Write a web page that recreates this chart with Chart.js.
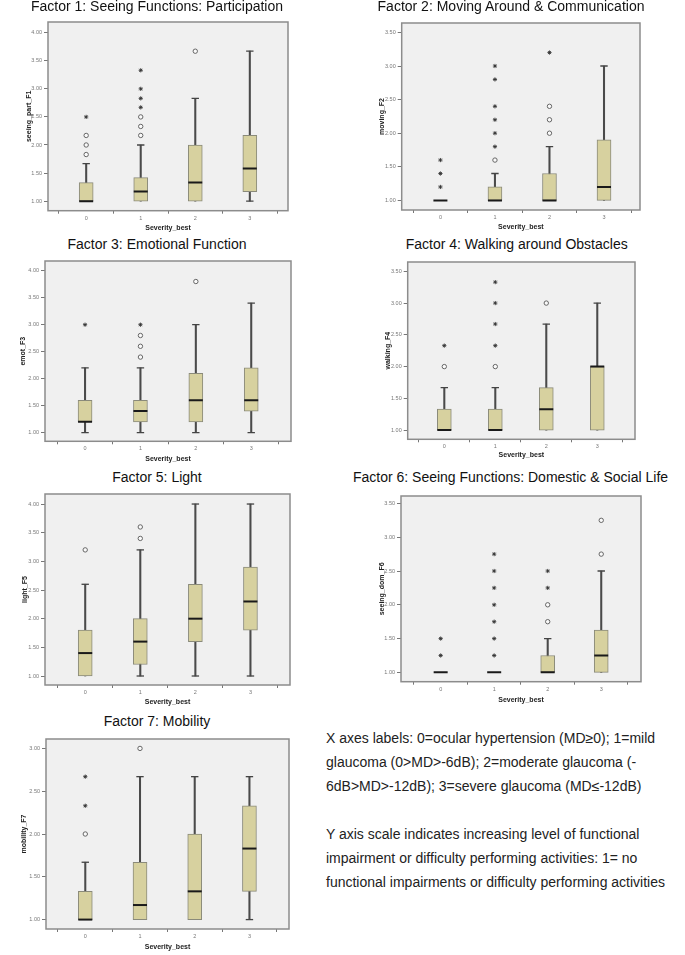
<!DOCTYPE html>
<html>
<head>
<meta charset="utf-8">
<script src="https://cdn.jsdelivr.net/npm/chart.js@4.4.1/dist/chart.umd.min.js"></script>
<style>
  body { margin: 0; background: #fff; width: 685px; height: 955px; position: relative; overflow: hidden;
         font-family: 'Liberation Sans', Arial, sans-serif; }
  canvas { position: absolute; }
  .title { position: absolute; width: 400px; text-align: center; font-size: 14px; line-height: 16px;
           color: #111; white-space: nowrap; }
  .note { position: absolute; left: 326px; top: 726px; font-size: 14px; line-height: 24px;
          color: #222; white-space: nowrap; }
</style>
</head>
<body>
<div class="note">X axes labels: 0=ocular hypertension (MD≥0); 1=mild<br>glaucoma (0&gt;MD&gt;-6dB); 2=moderate glaucoma (-<br>6dB&gt;MD&gt;-12dB); 3=severe glaucoma (MD≤-12dB)<br><br>Y axis scale indicates increasing level of functional<br>impairment or difficulty performing activities: 1= no<br>functional impairments or difficulty performing activities</div>
<script>
const categories = ['0', '1', '2', '3'];

// each category: [low whisker, q1, median, q3, high whisker]
const f1Box = [[1, 1, 1, 1.33, 1.67], [1, 1, 1.17, 1.42, 2], [1, 1, 1.33, 2, 2.83], [1, 1.17, 1.58, 2.17, 3.67]];
const f1Circles = [[1.83, 2, 2.17], [2.17, 2.33, 2.5], [3.67], []];
const f1Stars = [[2.5], [2.67, 2.83, 3, 3.33], [], []];
const f1Ticks = [1, 1.5, 2, 2.5, 3, 3.5, 4];

const f2Box = [[1, 1, 1, 1, 1], [1, 1, 1, 1.2, 1.4], [1, 1, 1, 1.4, 1.8], [1, 1, 1.2, 1.9, 3]];
const f2Circles = [[], [1.6], [2, 2.2, 2.4], []];
const f2Stars = [[1.2, 1.4, 1.6], [1.8, 2, 2.2, 2.4, 2.8, 3], [3.2], []];
const f2Ticks = [1, 1.5, 2, 2.5, 3, 3.5];

const f3Box = [[1, 1.2, 1.2, 1.6, 2.2], [1, 1.2, 1.4, 1.6, 2.2], [1, 1.2, 1.6, 2.1, 3], [1, 1.4, 1.6, 2.2, 3.4]];
const f3Circles = [[], [2.4, 2.6, 2.8], [3.8], []];
const f3Stars = [[3], [3], [], []];
const f3Ticks = [1, 1.5, 2, 2.5, 3, 3.5, 4];

const f4Box = [[1, 1, 1, 1.33, 1.67], [1, 1, 1, 1.33, 1.67], [1, 1, 1.33, 1.67, 2.67], [1, 1, 2, 2, 3]];
const f4Circles = [[2], [2], [3], []];
const f4Stars = [[2.33], [2.33, 2.67, 3, 3.33], [], []];
const f4Ticks = [1, 1.5, 2, 2.5, 3, 3.5];

const f5Box = [[1, 1, 1.4, 1.8, 2.6], [1, 1.2, 1.6, 2, 3.2], [1, 1.6, 2, 2.6, 4], [1, 1.8, 2.3, 2.9, 4]];
const f5Circles = [[3.2], [3.4, 3.6], [], []];
const f5Stars = [[], [], [], []];
const f5Ticks = [1, 1.5, 2, 2.5, 3, 3.5, 4];

const f6Box = [[1, 1, 1, 1, 1], [1, 1, 1, 1, 1], [1, 1, 1, 1.25, 1.5], [1, 1, 1.25, 1.625, 2.5]];
const f6Circles = [[], [], [1.75, 2], [2.75, 3.25]];
const f6Stars = [[1.25, 1.5], [1.25, 1.5, 1.75, 2, 2.25, 2.5, 2.75], [2.25, 2.5], []];
const f6Ticks = [1, 1.5, 2, 2.5, 3, 3.5];

const f7Box = [[1, 1, 1, 1.33, 1.67], [1, 1, 1.17, 1.67, 2.67], [1, 1, 1.33, 2, 2.67], [1, 1.33, 1.83, 2.33, 2.67]];
const f7Circles = [[2], [3], [], []];
const f7Stars = [[2.33, 2.67], [], [], []];
const f7Ticks = [1, 1.5, 2, 2.5, 3];

// layout of each panel: frame = [left, top, right, bottom] of the plot area on the page
const panels = [
  { title: 'Factor 1: Seeing Functions: Participation', yLabel: 'seeing_part_F1', box: f1Box, circles: f1Circles, stars: f1Stars, ticks: f1Ticks,
    frame: [48, 15, 294, 210.7], yRange: [0.83, 4.19], xRange: [-0.7, 3.7], yTitleX: 29, xTitleY: 228, titleX: 157, titleBase: 11 },
  { title: 'Factor 2: Moving Around & Communication', yLabel: 'moving_F2', box: f2Box, circles: f2Circles, stars: f2Stars, ticks: f2Ticks,
    frame: [401.7, 15.7, 646, 210], yRange: [0.857, 3.64], xRange: [-0.71, 3.66], yTitleX: 382, xTitleY: 227, titleX: 511, titleBase: 11 },
  { title: 'Factor 3: Emotional Function', yLabel: 'emot_F3', box: f3Box, circles: f3Circles, stars: f3Stars, ticks: f3Ticks,
    frame: [45, 254.3, 296.7, 441.3], yRange: [0.84, 4.18], xRange: [-0.723, 3.718], yTitleX: 22.7, xTitleY: 459.3, titleX: 157, titleBase: 248.5 },
  { title: 'Factor 4: Walking around Obstacles', yLabel: 'walking_F4', box: f4Box, circles: f4Circles, stars: f4Stars, ticks: f4Ticks,
    frame: [407.7, 255, 641, 439.3], yRange: [0.855, 3.647], xRange: [-0.718, 3.74], yTitleX: 388, xTitleY: 455, titleX: 516.7, titleBase: 249 },
  { title: 'Factor 5: Light', yLabel: 'light_F5', box: f5Box, circles: f5Circles, stars: f5Stars, ticks: f5Ticks,
    frame: [45, 487.3, 296, 685], yRange: [0.843, 4.175], xRange: [-0.73, 3.718], yTitleX: 25, xTitleY: 702.3, titleX: 157, titleBase: 482 },
  { title: 'Factor 6: Seeing Functions: Domestic & Social Life', yLabel: 'seeing_dom_F6', box: f6Box, circles: f6Circles, stars: f6Stars, ticks: f6Ticks,
    frame: [401, 489, 647.3, 681.7], yRange: [0.862, 3.61], xRange: [-0.741, 3.743], yTitleX: 382.3, xTitleY: 700, titleX: 510.5, titleBase: 482 },
  { title: 'Factor 7: Mobility', yLabel: 'mobility_F7', box: f7Box, circles: f7Circles, stars: f7Stars, ticks: f7Ticks,
    frame: [46, 731.7, 295.3, 929], yRange: [0.89, 3.11], xRange: [-0.718, 3.723], yTitleX: 24, xTitleY: 946.7, titleX: 157, titleBase: 726 }
];

// grey plot background + frame round the chart area
const framePlugin = {
  id: 'frame',
  beforeDraw(chart) {
    const { ctx, chartArea: a } = chart;
    ctx.save();
    ctx.fillStyle = '#f0f0f0';
    ctx.fillRect(a.left, a.top, a.right - a.left, a.bottom - a.top);
    ctx.restore();
  },
  afterDraw(chart) {
    const { ctx, chartArea: a } = chart;
    ctx.save();
    ctx.strokeStyle = '#8c8c8c';
    ctx.lineWidth = 1.5;
    ctx.strokeRect(a.left, a.top, a.right - a.left, a.bottom - a.top);
    ctx.restore();
  }
};

const tickFont = { family: "'Liberation Sans', Arial, sans-serif", size: 5.5 };
const axisTitleFont = { family: "'Liberation Sans', Arial, sans-serif", size: 7, weight: 'bold', lineHeight: 10 / 7 };

panels.forEach(p => {
  const [fl, ft, fr, fb] = p.frame;
  const cl = Math.round(p.yTitleX - 5);
  const ct = Math.round(ft) - 2;
  const cr = Math.round(fr) + 3;
  const cb = Math.round(p.xTitleY + 5);

  const canvas = document.createElement('canvas');
  canvas.width = cr - cl;
  canvas.height = cb - ct;
  canvas.style.left = cl + 'px';
  canvas.style.top = ct + 'px';
  document.body.appendChild(canvas);

  const t = document.createElement('div');
  t.className = 'title';
  t.textContent = p.title;
  t.style.left = (p.titleX - 200) + 'px';
  t.style.top = (p.titleBase - 12.6) + 'px';
  document.body.appendChild(t);

  const whiskers = p.box.map((b, i) => ({ x: i, y: [b[0], b[4]] }));
  const boxes = p.box.map((b, i) => ({ x: i, y: [b[1], b[3]] }));
  const medians = p.box.map((b, i) => ({ x: i, y: b[2] }));
  const caps = [];
  p.box.forEach((b, i) => {
    if (b[0] < b[1]) caps.push({ x: i, y: b[0] });
    if (b[4] > b[3]) caps.push({ x: i, y: b[4] });
  });
  const circles = [];
  p.circles.forEach((arr, i) => arr.forEach(v => circles.push({ x: i, y: v })));
  const stars = [];
  p.stars.forEach((arr, i) => arr.forEach(v => stars.push({ x: i, y: v })));

  const yAxisW = fl - cl;
  const xAxisH = cb - fb;

  new Chart(canvas, {
    type: 'bar',
    data: {
      datasets: [
        { type: 'scatter', data: stars, pointStyle: 'star', radius: 2.1, borderColor: '#333', borderWidth: 0.9, order: 0 },
        { type: 'scatter', data: circles, pointStyle: 'circle', radius: 2.2, backgroundColor: '#fafafa', borderColor: '#666', borderWidth: 1, order: 0 },
        { type: 'scatter', data: medians, pointStyle: 'line', radius: 7, borderColor: '#1a1a1a', borderWidth: 2, order: 1 },
        { type: 'scatter', data: caps, pointStyle: 'line', radius: 3.7, borderColor: '#444', borderWidth: 1.3, order: 2 },
        { type: 'bar', data: boxes, barThickness: 14, grouped: false, backgroundColor: '#d7d19f', borderColor: '#8a8a7a', borderWidth: 1, borderSkipped: false, order: 3 },
        { type: 'bar', data: whiskers, barThickness: 1.4, grouped: false, backgroundColor: '#4a4a4a', borderWidth: 0, order: 4 }
      ]
    },
    options: {
      responsive: false,
      animation: false,
      devicePixelRatio: 1,
      layout: { padding: { top: ft - ct, right: cr - fr, left: 0, bottom: 0 } },
      plugins: { legend: { display: false }, tooltip: { enabled: false } },
      scales: {
        x: {
          type: 'linear',
          min: p.xRange[0],
          max: p.xRange[1],
          offset: false,
          afterBuildTicks: s => { s.ticks = categories.map((c, i) => ({ value: i })); },
          afterFit: s => { s.height = xAxisH; },
          ticks: { callback: v => categories[v], font: tickFont, color: '#777', padding: 1, autoSkip: false, maxRotation: 0 },
          grid: { drawOnChartArea: false, tickLength: 3, color: '#777' },
          border: { display: false },
          title: { display: true, text: 'Severity_best', font: axisTitleFont, color: '#222', padding: 0 }
        },
        y: {
          min: p.yRange[0],
          max: p.yRange[1],
          afterBuildTicks: s => { s.ticks = p.ticks.map(v => ({ value: v })); },
          afterFit: s => { s.width = yAxisW; },
          ticks: { callback: v => Number(v).toFixed(2), font: tickFont, color: '#777', padding: 2, autoSkip: false },
          grid: { drawOnChartArea: false, tickLength: 4, color: '#777' },
          border: { display: false },
          title: { display: true, text: p.yLabel, font: axisTitleFont, color: '#222', padding: 0 }
        }
      }
    },
    plugins: [framePlugin]
  });
});
</script>
</body>
</html>
